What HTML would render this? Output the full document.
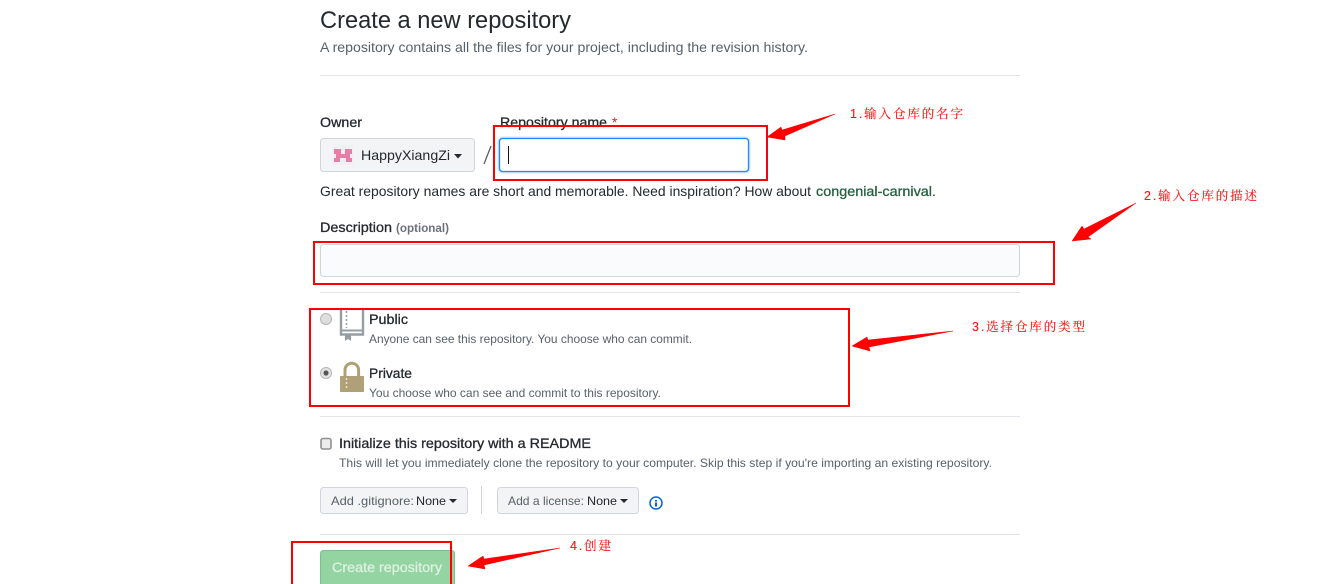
<!DOCTYPE html>
<html>
<head>
<meta charset="utf-8">
<style>
html,body{margin:0;padding:0;background:#fff;width:1339px;height:584px;overflow:hidden}
svg{display:block}
text{font-family:"Liberation Sans",sans-serif}
.cn{font-family:"Liberation Sans","Noto Serif CJK SC",serif;font-size:12.5px;fill:#ff1010;stroke:#ff1010;stroke-width:.12}
.m{stroke:currentColor;stroke-width:.3}
</style>
</head>
<body>
<svg width="1339" height="584" viewBox="0 0 1339 584" xmlns="http://www.w3.org/2000/svg">
<rect width="1339" height="584" fill="#fff"/>

<!-- Header -->
<text x="320" y="28" font-size="24" fill="#24292e" textLength="251" lengthAdjust="spacingAndGlyphs">Create a new repository</text>
<text x="320" y="52" font-size="14" fill="#586069" textLength="488" lengthAdjust="spacingAndGlyphs">A repository contains all the files for your project, including the revision history.</text>
<rect x="320" y="75" width="700" height="1" fill="#e1e4e8"/>

<!-- Owner / name -->
<text class="m" x="320" y="127" font-size="14" fill="#24292e" color="#24292e" textLength="42" lengthAdjust="spacingAndGlyphs">Owner</text>
<text class="m" x="500" y="127" font-size="14" fill="#24292e" color="#24292e" textLength="107" lengthAdjust="spacingAndGlyphs">Repository name</text>
<text x="612" y="127" font-size="14" fill="#cb2431">*</text>

<rect x="320.5" y="138.5" width="154" height="33" rx="3" fill="#f2f4f6" stroke="#d1d5da"/>
<rect x="333" y="145" width="20" height="20" fill="#f6eef2"/>
<g fill="#e87ea8">
<rect x="334" y="149" width="7" height="5"/>
<rect x="345" y="149" width="7" height="5"/>
<rect x="336" y="154" width="14" height="4"/>
<rect x="334" y="158" width="6" height="4"/>
<rect x="346" y="158" width="6" height="4"/>
</g>
<text x="361" y="160" font-size="14" fill="#24292e" textLength="89" lengthAdjust="spacingAndGlyphs">HappyXiangZi</text>
<polygon points="454,154 462,154 458,158.5" fill="#24292e"/>
<line x1="484" y1="164" x2="491" y2="146" stroke="#586069" stroke-width="1.3"/>

<rect x="497.5" y="136.5" width="253" height="37" rx="5" fill="#cfe5fb"/>
<rect x="499.5" y="138.5" width="249" height="33" rx="3" fill="#fff" stroke="#2188ff" stroke-width="1.3"/>
<rect x="508" y="146" width="1" height="18" fill="#111"/>

<text x="320" y="196" font-size="14" fill="#24292e" textLength="491" lengthAdjust="spacingAndGlyphs">Great repository names are short and memorable. Need inspiration? How about</text>
<text class="m" x="816" y="196" font-size="14" fill="#28613f" color="#28613f" textLength="116" lengthAdjust="spacingAndGlyphs">congenial-carnival</text>
<text x="932" y="196" font-size="14" fill="#24292e">.</text>

<!-- Description -->
<text class="m" x="320" y="232" font-size="14" fill="#24292e" color="#24292e" textLength="72" lengthAdjust="spacingAndGlyphs">Description</text>
<text x="396" y="232" font-size="12" font-weight="bold" fill="#6a737d" textLength="53" lengthAdjust="spacingAndGlyphs">(optional)</text>
<rect x="320.5" y="244.5" width="699" height="32" rx="3" fill="#fafbfc" stroke="#d1d5da"/>
<rect x="320" y="292" width="700" height="1" fill="#e1e4e8"/>

<!-- Public -->
<circle cx="326" cy="319" r="5.5" fill="#dedede" stroke="#b5b5b5"/>
<path d="M341 309 V334.5 H363 V309" fill="none" stroke="#959da5" stroke-width="2.4"/>
<rect x="341" y="329.5" width="22" height="2" fill="#959da5"/>
<line x1="346.5" y1="311" x2="346.5" y2="328" stroke="#959da5" stroke-width="1.5" stroke-dasharray="2 2"/>
<polygon points="345,335 351,335 351,341 348,339 345,341" fill="#959da5"/>
<text class="m" x="369" y="324" font-size="14" fill="#24292e" color="#24292e" textLength="39" lengthAdjust="spacingAndGlyphs">Public</text>
<text x="369" y="343" font-size="12" fill="#586069" textLength="323" lengthAdjust="spacingAndGlyphs">Anyone can see this repository. You choose who can commit.</text>

<!-- Private -->
<circle cx="326" cy="373" r="5.5" fill="#e4e4e4" stroke="#b5b5b5"/>
<circle cx="326" cy="373" r="2.6" fill="#555"/>
<path d="M345 377 V370 a6.8 6.8 0 0 1 13.6 0 V377" fill="none" stroke="#b0a078" stroke-width="3"/>
<rect x="340" y="376" width="24" height="16" rx="1" fill="#b0a078"/>
<line x1="346.5" y1="378" x2="346.5" y2="390" stroke="#e8e2cf" stroke-width="1.5" stroke-dasharray="2 2"/>
<text class="m" x="369" y="378" font-size="14" fill="#24292e" color="#24292e" textLength="43" lengthAdjust="spacingAndGlyphs">Private</text>
<text x="369" y="397" font-size="12" fill="#586069" textLength="292" lengthAdjust="spacingAndGlyphs">You choose who can see and commit to this repository.</text>
<rect x="320" y="416" width="700" height="1" fill="#e1e4e8"/>

<!-- Init -->
<rect x="321" y="438.5" width="10" height="10.5" rx="2" fill="#ececec" stroke="#909090" stroke-width="1.6"/>
<text class="m" x="339" y="448" font-size="14" fill="#24292e" color="#24292e" textLength="252" lengthAdjust="spacingAndGlyphs">Initialize this repository with a README</text>
<text x="339" y="467" font-size="12" fill="#586069" textLength="653" lengthAdjust="spacingAndGlyphs">This will let you immediately clone the repository to your computer. Skip this step if you're importing an existing repository.</text>

<!-- Buttons -->
<rect x="320.5" y="487.5" width="147" height="26" rx="3" fill="#f2f4f6" stroke="#d1d5da"/>
<text x="331" y="505" font-size="12" fill="#586069" textLength="83" lengthAdjust="spacingAndGlyphs">Add .gitignore:</text>
<text x="416" y="505" font-size="12" fill="#24292e" textLength="30" lengthAdjust="spacingAndGlyphs">None</text>
<polygon points="449,499 457,499 453,503" fill="#24292e"/>
<rect x="481" y="486" width="1" height="28" fill="#d1d5da"/>
<rect x="497.5" y="487.5" width="141" height="26" rx="3" fill="#f2f4f6" stroke="#d1d5da"/>
<text x="508" y="505" font-size="12" fill="#586069" textLength="76" lengthAdjust="spacingAndGlyphs">Add a license:</text>
<text x="587" y="505" font-size="12" fill="#24292e" textLength="30" lengthAdjust="spacingAndGlyphs">None</text>
<polygon points="620,499 628,499 624,503" fill="#24292e"/>
<circle cx="656" cy="503" r="6" fill="none" stroke="#0366d6" stroke-width="1.5"/>
<rect x="655" y="500" width="2" height="1.6" fill="#0366d6"/>
<rect x="655" y="502.5" width="2" height="4" fill="#0366d6"/>
<rect x="320" y="534" width="700" height="1" fill="#e1e4e8"/>

<!-- Create -->
<rect x="320.5" y="550.5" width="134" height="40" rx="3" fill="#94d3a2" stroke="#7fbe8e"/>
<text class="m" x="332" y="572" font-size="14" fill="#def1e2" color="#def1e2" textLength="110" lengthAdjust="spacingAndGlyphs">Create repository</text>

<!-- Red boxes -->
<g fill="none" stroke="#fe0000" stroke-width="2">
<rect x="494" y="126" width="273" height="54"/>
<rect x="314" y="242" width="740" height="42"/>
<rect x="310" y="309" width="539" height="97"/>
<path d="M292 590 V542 H451 V590"/>
</g>

<!-- Arrows -->
<g fill="#fe0000" stroke="#fe0000" stroke-width=".5" stroke-linejoin="round">
<polygon points="835,114 785,136 785,140 767,137 781,127 782,130"/>
<polygon points="1136,203 1088,237 1091,239 1072,241 1082,226 1084,229"/>
<polygon points="953,331 869,347 870,351 852,346 867,337 868,340"/>
<polygon points="560,548 484,565 485,569 468,566 483,556 484,559"/>
</g>

<!-- Notes -->
<text class="cn" x="850" y="118" textLength="113">1.输入仓库的名字</text>
<text class="cn" x="1144" y="200" textLength="113">2.输入仓库的描述</text>
<text class="cn" x="972" y="331" textLength="113">3.选择仓库的类型</text>
<text class="cn" x="570" y="550" textLength="41">4.创建</text>
</svg>
</body>
</html>
